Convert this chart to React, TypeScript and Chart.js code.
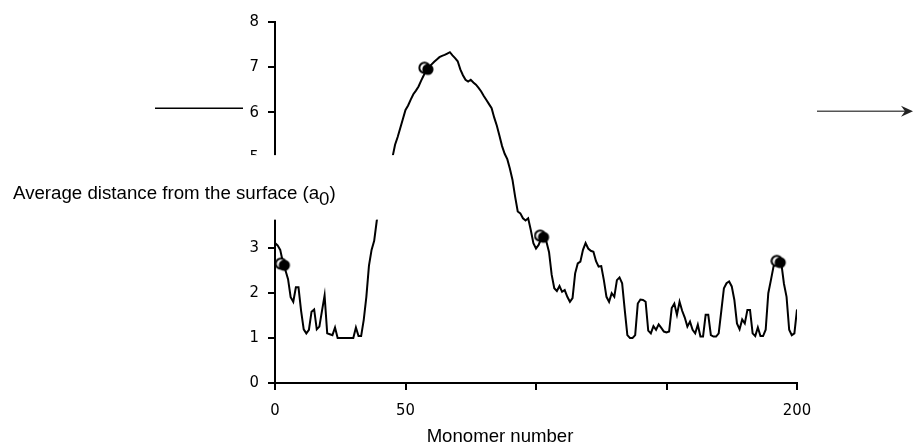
import React, { useEffect, useRef } from 'react';
import { Chart, registerables } from 'chart.js';

Chart.register(...registerables);

// ---- data ----
const monomerNumbers: number[] = Array.from({ length: 201 }, (_, i) => i);
const distances: number[] = [
  3.10, 3.05, 2.95, 2.68, 2.50, 2.30, 1.90, 1.80, 2.12, 2.12,
  1.60, 1.19, 1.10, 1.18, 1.58, 1.63, 1.19, 1.25, 1.60, 1.94,
  1.10, 1.08, 1.06, 1.23, 1.00, 1.00, 1.00, 1.00, 1.00, 1.00,
  1.00, 1.23, 1.04, 1.04, 1.40, 1.91, 2.60, 2.95, 3.15, 3.60,
  3.85, 4.10, 4.35, 4.60, 4.80, 5.00, 5.28, 5.45, 5.65, 5.85,
  6.05, 6.15, 6.28, 6.40, 6.48, 6.57, 6.70, 6.82, 6.95, 7.00,
  7.06, 7.12, 7.17, 7.22, 7.25, 7.27, 7.30, 7.33, 7.26, 7.20,
  7.13, 6.95, 6.82, 6.72, 6.68, 6.72, 6.66, 6.61, 6.54, 6.46,
  6.36, 6.27, 6.18, 6.09, 5.88, 5.70, 5.48, 5.25, 5.08, 4.96,
  4.75, 4.50, 4.13, 3.80, 3.76, 3.65, 3.60, 3.65, 3.39, 3.10,
  2.98, 3.06, 3.20, 3.18, 3.13, 2.90, 2.40, 2.10, 2.04, 2.15,
  2.02, 2.06, 1.91, 1.80, 1.88, 2.43, 2.65, 2.69, 2.95, 3.10,
  2.98, 2.93, 2.91, 2.70, 2.58, 2.59, 2.28, 1.91, 1.80, 1.99,
  1.91, 2.28, 2.34, 2.21, 1.62, 1.06, 1.00, 1.00, 1.06, 1.76,
  1.85, 1.84, 1.80, 1.16, 1.10, 1.26, 1.18, 1.30, 1.22, 1.14,
  1.12, 1.14, 1.66, 1.76, 1.51, 1.80, 1.60, 1.45, 1.25, 1.36,
  1.18, 1.10, 1.29, 1.03, 1.03, 1.51, 1.51, 1.06, 1.03, 1.03,
  1.10, 1.60, 2.10, 2.21, 2.25, 2.14, 1.84, 1.32, 1.19, 1.41,
  1.32, 1.62, 1.62, 1.10, 1.04, 1.23, 1.04, 1.04, 1.18, 1.99,
  2.28, 2.58, 2.68, 2.70, 2.65, 2.20, 1.91, 1.18, 1.06, 1.10,
  1.63,
];
const markerMonomers: number[] = [3, 58, 102.3, 193];
const markerDistances: number[] = [2.62, 6.96, 3.24, 2.68];
const xTickValues: number[] = [0, 50, 100, 150, 200];
const xTickLabels: string[] = ['0', '50', '', '', '200'];
const yTickValues: number[] = [0, 1, 2, 3, 4, 5, 6, 7, 8];
const yTitleMain = 'Average distance from the surface (a';
const yTitleSub = '0';
const yTitleEnd = ')';
const xTitle = 'Monomer number';

const TICK_FONT = '"DejaVu Sans Condensed", "DejaVu Sans", sans-serif';

function makeMarker(): HTMLCanvasElement {
  const c = document.createElement('canvas');
  c.width = 17;
  c.height = 17;
  const g = c.getContext('2d')!;
  g.lineWidth = 2;
  g.strokeStyle = '#000';
  g.fillStyle = '#fff';
  g.beginPath();
  g.arc(6.6, 7.4, 5.2, 0, Math.PI * 2);
  g.fill();
  g.stroke();
  g.fillStyle = '#000';
  g.beginPath();
  g.arc(10.0, 9.0, 5.6, 0, Math.PI * 2);
  g.fill();
  return c;
}

const overlayPlugin = {
  id: 'overlay',
  afterDraw(chart: any) {
    const ctx: CanvasRenderingContext2D = chart.ctx;
    const ys = chart.scales.y;
    const area = chart.chartArea;
    ctx.save();
    // white box behind the horizontal y title
    const boxTop = ys.getPixelForValue(5.05);
    const boxBottom = ys.getPixelForValue(3.62);
    ctx.fillStyle = '#fff';
    ctx.fillRect(0, boxTop, area.left + 130, boxBottom - boxTop);

    // y title
    ctx.fillStyle = '#000';
    ctx.textBaseline = 'alphabetic';
    ctx.textAlign = 'left';
    ctx.font = '18.7px "Liberation Sans", Arial, sans-serif';
    const base = boxTop + 43.5;
    let x = 13;
    ctx.fillText(yTitleMain, x, base);
    x += ctx.measureText(yTitleMain).width;
    ctx.fillText(yTitleSub, x, base + 6);
    x += ctx.measureText(yTitleSub).width;
    ctx.fillText(yTitleEnd, x, base);

    // x title
    ctx.textAlign = 'center';
    ctx.font = '18.6px "Liberation Sans", Arial, sans-serif';
    ctx.fillText(xTitle, area.left + 225, area.bottom + 59);

    // left line
    const yLeft = ys.getPixelForValue(6) - 4;
    ctx.strokeStyle = '#000';
    ctx.lineWidth = 1.3;
    ctx.beginPath();
    ctx.moveTo(155, yLeft);
    ctx.lineTo(area.left - 32, yLeft);
    ctx.stroke();

    // right arrow
    const yRight = ys.getPixelForValue(6) - 1;
    const x0 = area.right + 20;
    const x1 = chart.width - 1;
    ctx.strokeStyle = '#555';
    ctx.fillStyle = '#222';
    ctx.lineWidth = 1.4;
    ctx.beginPath();
    ctx.moveTo(x0, yRight);
    ctx.lineTo(x1 - 6, yRight);
    ctx.stroke();
    ctx.beginPath();
    ctx.moveTo(x1, yRight);
    ctx.lineTo(x1 - 12, yRight - 5.5);
    ctx.lineTo(x1 - 8, yRight);
    ctx.lineTo(x1 - 12, yRight + 5.5);
    ctx.closePath();
    ctx.fill();
    ctx.restore();
  },
};

export default function App() {
  const ref = useRef<HTMLCanvasElement | null>(null);
  useEffect(() => {
    if (!ref.current) return;
    const marker = makeMarker();
    const chart = new Chart(ref.current, {
      type: 'line',
      data: {
        datasets: [
          {
            label: 'markers',
            data: markerMonomers.map((m, i) => ({ x: m, y: markerDistances[i] })),
            showLine: false,
            pointStyle: marker as any,
            pointRadius: 7,
            borderColor: '#000',
            backgroundColor: '#000',
            order: 0,
          },
          {
            label: 'distance',
            data: monomerNumbers.map((m, i) => ({ x: m, y: distances[i] })),
            borderColor: '#000',
            borderWidth: 2,
            pointRadius: 0,
            tension: 0,
            fill: false,
            order: 1,
          },
        ],
      },
      options: {
        animation: false,
        responsive: false,
        devicePixelRatio: 1,
        layout: { padding: { left: 0, top: 22, right: 117, bottom: 0 } },
        plugins: {
          legend: { display: false },
          tooltip: { enabled: false },
          title: { display: false },
        },
        scales: {
          x: {
            type: 'linear',
            min: 0,
            max: 200,
            afterBuildTicks: (s: any) => {
              s.ticks = xTickValues.map((v) => ({ value: v }));
            },
            afterFit: (s: any) => {
              s.height = 65;
            },
            ticks: {
              color: '#000',
              font: { family: TICK_FONT, size: 16.5 },
              padding: 11,
              maxRotation: 0,
              autoSkip: false,
              callback: (v: any) => {
                const k = xTickValues.indexOf(Number(v));
                return k >= 0 ? xTickLabels[k] : '';
              },
            },
            grid: {
              drawOnChartArea: false,
              drawTicks: true,
              tickLength: 7,
              color: '#000',
              lineWidth: 2,
            },
            border: { display: true, color: '#000', width: 2 },
          },
          y: {
            type: 'linear',
            min: 0,
            max: 8,
            afterBuildTicks: (s: any) => {
              s.ticks = yTickValues.map((v) => ({ value: v }));
            },
            afterFit: (s: any) => {
              s.width = 275;
            },
            ticks: {
              color: '#000',
              font: { family: TICK_FONT, size: 16.5 },
              padding: 9,
              autoSkip: false,
            },
            grid: {
              drawOnChartArea: false,
              drawTicks: true,
              tickLength: 7,
              color: '#000',
              lineWidth: 2,
            },
            border: { display: true, color: '#000', width: 2 },
          },
        },
      },
      plugins: [overlayPlugin],
    });
    return () => chart.destroy();
  }, []);
  return (
    <div style={{ position: 'absolute', left: 0, top: 0, width: 914, height: 448, background: '#fff' }}>
      <canvas ref={ref} width={914} height={448} style={{ display: 'block' }} />
    </div>
  );
}
